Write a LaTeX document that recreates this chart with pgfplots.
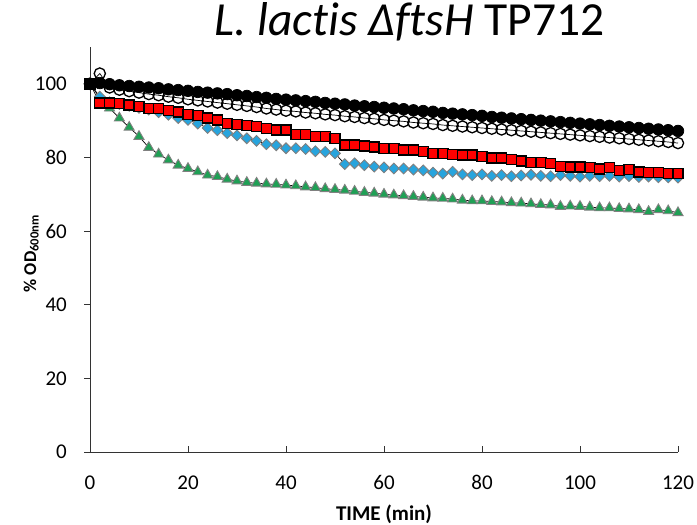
\documentclass[border=0pt]{standalone}
\usepackage{fontspec}
\setmainfont{Carlito}[Ligatures={TeX,NoCommon}]
\usepackage{pgfplots}
\pgfplotsset{compat=1.18}
\definecolor{cblue}{HTML}{27A4DD}
\definecolor{cgreen}{HTML}{1FA055}
\definecolor{cgrey}{HTML}{808080}
\begin{document}
\begin{tikzpicture}[x=1pt,y=1pt]
\useasboundingbox (0,0) rectangle (697,525);
\begin{axis}[
  at={(90pt,73pt)}, anchor=south west,
  scale only axis, width=588pt, height=405pt,
  xmin=0, xmax=120, ymin=0, ymax=110,
  xtick={0,20,...,120}, ytick={0,20,...,100},
  axis x line*=bottom, axis y line*=left,
  axis line style={-, line width=0.8pt, black!80},
  tick align=outside, major tick length=6pt,
  tick style={line width=0.8pt, black!80},
  xtick style={yshift=6pt},
  /pgf/number format/assume math mode=true,
  ticklabel style={font=\fontsize{21}{25}\selectfont},
  xticklabel style={anchor=base, inner sep=0pt, yshift=-32pt},
  yticklabel style={anchor=east, inner sep=0pt, xshift=-17pt},
  xlabel={\textbf{TIME (min)}},
  xlabel style={at={(axis description cs:0.5,0)}, anchor=base, yshift=-69pt, font=\fontsize{21}{25}\selectfont},
  ylabel={\textbf{\% OD\textsubscript{600nm}}},
  ylabel style={at={(axis description cs:-0.10,0.49)}, anchor=center, rotate=0, font=\fontsize{18}{21}\selectfont},
  title={\textit{L. lactis ΔftsH} TP712},
  title style={at={(axis description cs:0.544,1)}, anchor=base, yshift=5pt, font=\fontsize{47.5}{54}\selectfont},
  clip=false,
]
% green triangles
\addplot[black, line width=0.7pt, mark=triangle*, mark size=5.8pt, mark options={fill=cgreen, draw=cgrey, line width=0.9pt}] coordinates {
(0,100)(2,96.2)(4,93.4)(6,90.7)(8,88.2)(10,85.7)(12,82.7)(14,80.9)(16,79.3)(18,77.9)(20,77.0)
(22,76.1)(24,75.2)(26,74.8)(28,74.1)(30,73.6)(32,73.2)(34,73.0)(36,72.8)(38,72.7)(40,72.5)
(42,72.3)(44,72.0)(46,71.8)(48,71.5)(50,71.3)(52,71.1)(54,70.8)(56,70.5)(58,70.3)(60,70.0)
(62,69.8)(64,69.6)(66,69.4)(68,69.2)(70,69.0)(72,68.9)(74,68.7)(76,68.4)(78,68.2)(80,68.2)
(82,68.0)(84,67.9)(86,67.7)(88,67.6)(90,67.4)(92,67.2)(94,67.1)(96,66.7)(98,66.8)(100,66.7)
(102,66.5)(104,66.3)(106,66.3)(108,66.1)(110,66.0)(112,65.8)(114,65.3)(116,65.8)(118,65.5)(120,65.0)
};
% blue diamonds
\addplot[black, line width=0.7pt, mark=square*, mark size=3.8pt, mark options={rotate=45, fill=cblue, draw=cgrey, line width=0.9pt}] coordinates {
(0,100)(2,96.5)(4,95.0)(6,94.5)(8,94.0)(10,93.5)(12,93.0)(14,92.3)(16,91.6)(18,90.7)(20,90.2)
(22,89.2)(24,88.0)(26,87.4)(28,86.6)(30,86.0)(32,85.2)(34,84.5)(36,83.6)(38,83.3)(40,82.5)
(42,82.5)(44,82.3)(46,81.7)(48,81.5)(50,81.1)(52,78.2)(54,78.4)(56,77.9)(58,77.5)(60,77.3)
(62,77.0)(64,77.0)(66,76.7)(68,76.5)(70,75.9)(72,75.6)(74,76.1)(76,75.4)(78,75.2)(80,75.4)
(82,75.0)(84,75.2)(86,74.9)(88,75.1)(90,75.3)(92,75.0)(94,74.9)(96,75.2)(98,75.0)(100,74.8)
(102,75.0)(104,74.9)(106,75.0)(108,74.8)(110,74.9)(112,74.7)(114,74.8)(116,74.6)(118,74.6)(120,74.5)
};
% red squares
\addplot[black, line width=0.7pt, mark=square*, mark size=5pt, mark options={fill=red, draw=black, line width=1.4pt}] coordinates {
(0,100)(2,94.8)(4,94.8)(6,94.6)(8,94.2)(10,93.8)(12,93.3)(14,93.3)(16,92.8)(18,92.3)(20,91.6)
(22,91.4)(24,90.7)(26,90.2)(28,89.2)(30,88.9)(32,88.7)(34,88.4)(36,87.8)(38,87.5)(40,87.5)
(42,86.2)(44,86.2)(46,85.7)(48,85.7)(50,85.2)(52,83.4)(54,83.4)(56,83.1)(58,82.8)(60,82.5)
(62,82.5)(64,82.0)(66,82.0)(68,81.6)(70,81.1)(72,81.1)(74,80.8)(76,80.7)(78,80.7)(80,80.2)
(82,79.9)(84,79.9)(86,79.4)(88,79.0)(90,78.6)(92,78.6)(94,78.3)(96,77.6)(98,77.4)(100,77.4)
(102,77.2)(104,76.9)(106,77.2)(108,76.4)(110,76.7)(112,76.1)(114,75.9)(116,75.9)(118,75.7)(120,75.7)
};
% open circles
\addplot[black, line width=0.7pt, mark=o, mark size=5.6pt, mark options={draw=black, line width=1.3pt}] coordinates {
(0,100)(2,102.8)(4,99.0)(6,98.4)(8,98.0)(10,97.6)(12,97.2)(14,96.9)(16,96.5)(18,96.2)(20,95.8)
(22,95.5)(24,95.2)(26,94.9)(28,94.6)(30,94.3)(32,94.0)(34,93.7)(36,93.3)(38,93.0)(40,92.7)
(42,92.5)(44,92.2)(46,92.0)(48,91.7)(50,91.5)(52,91.2)(54,91.0)(56,90.7)(58,90.5)(60,90.2)
(62,90.0)(64,89.8)(66,89.5)(68,89.3)(70,89.1)(72,88.8)(74,88.6)(76,88.4)(78,88.2)(80,88.0)
(82,87.8)(84,87.6)(86,87.4)(88,87.2)(90,87.0)(92,86.8)(94,86.6)(96,86.4)(98,86.2)(100,86.0)
(102,85.8)(104,85.6)(106,85.4)(108,85.2)(110,85.0)(112,84.8)(114,84.6)(116,84.4)(118,84.2)(120,83.9)
};
% filled circles
\addplot[black, line width=0.7pt, mark=*, mark size=5.8pt, mark options={fill=black, draw=black}] coordinates {
(0,100.0)(2,100.2)(4,99.9)(6,99.6)(8,99.4)(10,99.2)(12,99.0)(14,98.8)(16,98.5)(18,98.3)(20,98.1)
(22,97.8)(24,97.6)(26,97.4)(28,97.2)(30,96.9)(32,96.7)(34,96.4)(36,96.2)(38,95.9)(40,95.7)
(42,95.5)(44,95.3)(46,95.1)(48,94.8)(50,94.6)(52,94.4)(54,94.1)(56,93.9)(58,93.7)(60,93.5)
(62,93.3)(64,93.1)(66,92.8)(68,92.6)(70,92.4)(72,92.1)(74,91.9)(76,91.7)(78,91.5)(80,91.3)
(82,91.0)(84,90.8)(86,90.6)(88,90.4)(90,90.2)(92,90.0)(94,89.8)(96,89.6)(98,89.4)(100,89.2)
(102,89.0)(104,88.8)(106,88.6)(108,88.4)(110,88.2)(112,88.0)(114,87.8)(116,87.6)(118,87.4)(120,87.2)
};
\end{axis}
\end{tikzpicture}
\end{document}
